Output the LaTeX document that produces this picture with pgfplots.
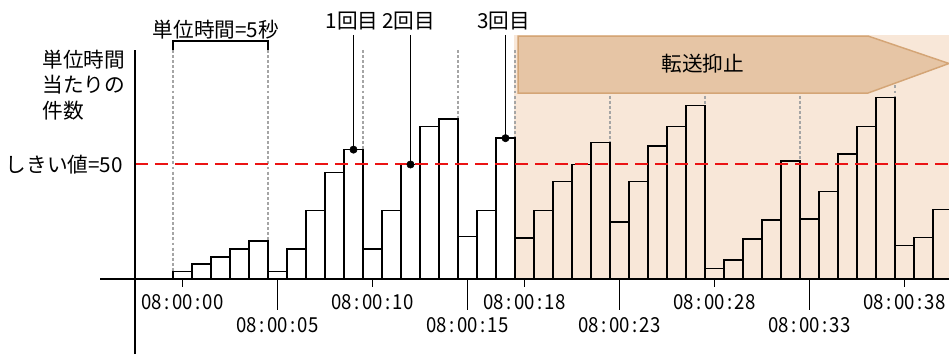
\documentclass[border=0pt]{standalone}
\usepackage{fontspec}
\setmainfont{Noto Sans CJK JP}
\newfontfamily\tickfont[FakeStretch=0.9]{Noto Sans CJK JP}
\usepackage{pgfplots}
\pgfplotsset{compat=1.18}
\definecolor{lightpeach}{RGB}{248,231,216}
\definecolor{arrowfill}{RGB}{230,197,165}
\definecolor{arrowdraw}{RGB}{212,165,118}
\definecolor{dotgray}{RGB}{165,165,165}
\definecolor{thred}{RGB}{235,20,20}
\begin{document}
\begin{tikzpicture}
\begin{axis}[
  width=711.75pt, height=265.5pt, scale only axis,
  xmin=-9.605, xmax=40.342, ymin=-32.75, ymax=121.83,
  hide axis,
]
\path (rel axis cs:0,0) rectangle (rel axis cs:1,1);
% suppressed region
\fill[lightpeach] (axis cs:17.45,0) rectangle (axis cs:40.342,106.55);
% dotted group boundaries
\tikzset{dl/.style={dotgray, line width=1.1pt, dash pattern=on 2.2pt off 1.6pt}}
\draw[dl] (axis cs:-0.5,100) -- (axis cs:-0.5,3.2);
\draw[dl] (axis cs:4.5,100) -- (axis cs:4.5,16.6);
\draw[dl] (axis cs:9.5,100) -- (axis cs:9.5,56.5);
\draw[dl] (axis cs:14.5,100) -- (axis cs:14.5,69.9);
\draw[dl] (axis cs:17.5,100) -- (axis cs:17.5,61.5);
\draw[dl] (axis cs:22.5,100) -- (axis cs:22.5,59.7);
\draw[dl] (axis cs:27.5,100) -- (axis cs:27.5,75.7);
\draw[dl] (axis cs:32.5,100) -- (axis cs:32.5,51.5);
\draw[dl] (axis cs:37.5,100) -- (axis cs:37.5,79.3);
% arrow
\draw[fill=arrowfill, draw=arrowdraw, line width=1.1pt]
  (axis cs:17.66,106.1) -- (axis cs:36.08,106.1) -- (axis cs:40.342,94.1)
  -- (axis cs:36.08,81.2) -- (axis cs:17.66,81.2) -- cycle;
\node[font=\fontsize{15.5}{18}\selectfont, inner sep=0pt] at (axis cs:27.39,94.2) {転送抑止};
% bars
\addplot[ybar, bar width=1, draw=black, fill=none, line width=1.1pt] coordinates {
(0,3.2) (1,6.5) (2,9.7) (3,13.1) (4,16.6) (5,3.2) (6,13.1) (7,29.8) (8,46.4) (9,56.5)
(10,13.1) (11,29.8) (12,50) (13,66.5) (14,69.9) (15,18.5) (16,29.8) (17,61.5) (18,18.0) (19,29.8)
(20,42.5) (21,50) (22,59.7) (23,24.8) (24,42.5) (25,58.1) (26,66.5) (27,75.7) (28,4.7) (29,8.3)
(30,17.5) (31,25.8) (32,51.5) (33,26.3) (34,38.1) (35,54.6) (36,66.5) (37,79.3) (38,14.7) (39,18.2)
(40,30.4)};
% threshold
\addplot[thred, line width=1.5pt, dash pattern=on 10pt off 5pt] coordinates {(-2.5,50) (40.342,50)};
% axes
\draw[black, line width=1.1pt] (axis cs:-4.34,0) -- (axis cs:40.342,0);
\draw[black, line width=1.1pt] (axis cs:-2.5,-32.75) -- (axis cs:-2.5,100);
% ticks
\foreach \t in {0,10,18,28,38} {
  \edef\temp{\noexpand\draw[black, line width=1.1pt] (axis cs:\t,0) -- (axis cs:\t,-3.49);}\temp
}
\foreach \t in {5,15,23,33} {
  \edef\temp{\noexpand\draw[black, line width=1.1pt] (axis cs:\t,0) -- (axis cs:\t,-13.54);}\temp
}
\tikzset{tl/.style={font=\tickfont\fontsize{15.5}{18}\selectfont, inner sep=0pt}}
\newcommand{\cl}{\hspace{0.12em}:\hspace{0.12em}}
\node[tl] at (axis cs:0,-9.9) {08\cl 00\cl 00};
\node[tl] at (axis cs:10,-9.9) {08\cl 00\cl 10};
\node[tl] at (axis cs:18,-9.9) {08\cl 00\cl 18};
\node[tl] at (axis cs:28,-9.9) {08\cl 00\cl 28};
\node[tl] at (axis cs:38,-9.9) {08\cl 00\cl 38};
\node[tl] at (axis cs:5,-20.1) {08\cl 00\cl 05};
\node[tl] at (axis cs:15,-20.1) {08\cl 00\cl 15};
\node[tl] at (axis cs:23,-20.1) {08\cl 00\cl 23};
\node[tl] at (axis cs:33,-20.1) {08\cl 00\cl 33};
% unit bracket
\draw[black, line width=1.1pt] (axis cs:-0.5,100) -- (axis cs:-0.5,103.9) -- (axis cs:4.5,103.9) -- (axis cs:4.5,100);
\tikzset{jl/.style={font=\fontsize{15.5}{18}\selectfont, inner sep=0pt}}
\node[jl] at (axis cs:1.76,108.7) {単位時間=5秒};
% y label
\node[jl, anchor=west] at (axis cs:-7.39,95.94) {単位時間};
\node[jl, anchor=west] at (axis cs:-7.39,84.72) {当たりの};
\node[jl, anchor=west] at (axis cs:-7.39,73.49) {件数};
\node[jl, anchor=east] at (axis cs:-3.13,50) {しきい値=50};
% occurrence annotations
\draw[black, line width=1.1pt] (axis cs:9,106.55) -- (axis cs:9,56.5);
\draw[black, line width=1.1pt] (axis cs:12,106.55) -- (axis cs:12,50);
\draw[black, line width=1.1pt] (axis cs:17,106.55) -- (axis cs:17,61.5);
\addplot[only marks, mark=*, mark size=2.75pt, black] coordinates {(9,56.5) (12,50) (17,61.5)};
\node[jl] at (axis cs:8.92,112.7) {1回目};
\node[jl] at (axis cs:11.89,112.7) {2回目};
\node[jl] at (axis cs:16.89,112.7) {3回目};
\end{axis}
\end{tikzpicture}
\end{document}
